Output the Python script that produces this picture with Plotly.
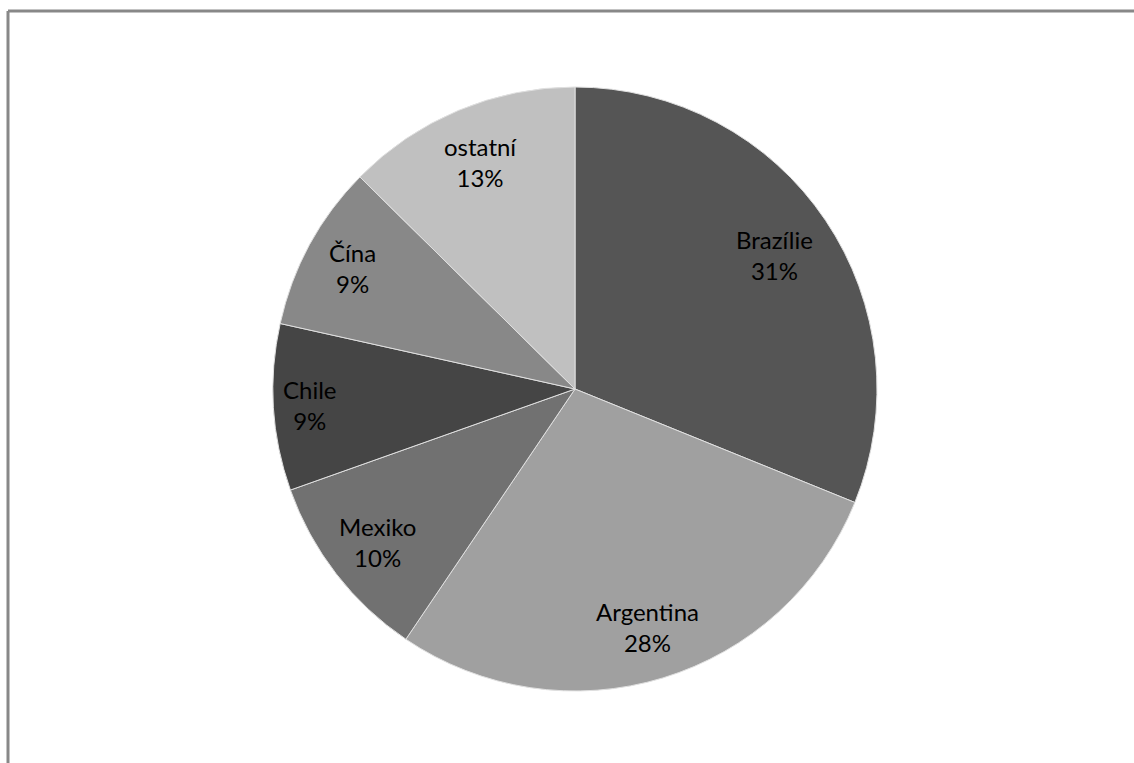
import math
import plotly.graph_objects as go

labels = ["Brazílie", "Argentina", "Mexiko", "Chile", "Čína", "ostatní"]
values = [31.1, 28.3, 10.1, 8.9, 8.9, 12.6]
colors = ["#555555", "#a0a0a0", "#717171", "#454545", "#888888", "#c0c0c0"]
label_radius = [0.795, 0.823, 0.825, 0.88, 0.84, 0.815]  # label distance as fraction of radius

W, H = 1134, 763
CX, CY, R = 575, 389, 302  # pie centre / radius in pixels

fig = go.Figure(go.Pie(
    labels=labels, values=values, sort=False, direction="clockwise", rotation=0,
    marker=dict(colors=colors, line=dict(color="#e0e0e0", width=1)),
    textinfo="none",
    domain=dict(x=[(CX - R) / W, (CX + R) / W], y=[1 - (CY + R) / H, 1 - (CY - R) / H]),
    showlegend=False, hoverinfo="label+percent",
))

total = sum(values)
annotations = []
cum = 0.0
for lab, v, lr in zip(labels, values, label_radius):
    mid = (cum + v / 2) / total * 2 * math.pi
    cum += v
    px = CX + lr * R * math.sin(mid)
    py = CY - lr * R * math.cos(mid)
    annotations.append(dict(
        x=px / W, y=1 - py / H, xref="paper", yref="paper",
        text=f"{lab}<br>{round(v / total * 100):d}%", showarrow=False,
        xanchor="center", yanchor="middle", align="center",
        font=dict(family="Lato, Open Sans, sans-serif", size=24, color="black"),
    ))

fig.update_layout(
    width=W, height=H, margin=dict(l=0, r=0, t=0, b=0),
    paper_bgcolor="white", plot_bgcolor="white",
    annotations=annotations,
    shapes=[
        dict(type="line", xref="paper", yref="paper", x0=8 / W, x1=1.0, y0=1 - 11 / H, y1=1 - 11 / H,
             line=dict(color="#888888", width=3)),
        dict(type="line", xref="paper", yref="paper", x0=8 / W, x1=8 / W, y0=0, y1=1 - 11 / H,
             line=dict(color="#888888", width=3)),
    ],
)
fig.write_html("out.html", config={"displayModeBar": False},
               post_script="document.body.style.margin='0';")
